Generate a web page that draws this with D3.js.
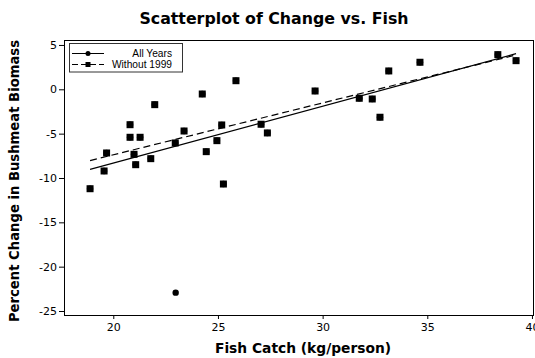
<!DOCTYPE html>
<html>
<head>
<meta charset="utf-8">
<script src="https://cdn.jsdelivr.net/npm/d3@7"></script>
<style>
  html, body { margin: 0; padding: 0; background: #fff; }
  svg { display: block; }
</style>
</head>
<body>
<svg id="chart" width="535" height="358"></svg>
<script>
// Fish catch (kg/person) per year and the percent change in bushmeat biomass
const fishCatch = [18.89, 19.56, 19.68, 20.80, 20.80, 21.28, 20.99, 21.07, 21.79, 21.98,
                   22.96, 23.38, 24.25, 24.44, 24.95, 25.18, 25.26, 25.86, 27.06, 27.36,
                   29.64, 31.75, 32.37, 32.74, 33.16, 34.65, 38.37, 39.24, 22.98];
const bushmeatChange = [-11.21, -9.21, -7.18, -3.99, -5.41, -5.41, -7.33, -8.50, -7.82, -1.73,
                        -6.05, -4.70, -0.53, -7.03, -5.79, -4.02, -10.68, 0.97, -3.94, -4.92,
                        -0.19, -1.01, -1.09, -3.15, 2.07, 3.05, 3.91, 3.23, -22.93];
// the last entry is 1999
const isYear1999 = fishCatch.map((d, i) => i === fishCatch.length - 1);

const xTicks = [20, 25, 30, 35, 40];
const yTicks = [5, 0, -5, -10, -15, -20, -25];
const seriesNames = ["All Years", "Without 1999"];

const svg = d3.select("#chart");
const plotLeft = 64, plotRight = 533, plotTop = 40, plotBottom = 315;

const x = d3.scaleLinear().domain([17.645, 40.05]).range([plotLeft, plotRight]);
const y = d3.scaleLinear().domain([-25.45, 5.56]).range([plotBottom, plotTop]);

const all = fishCatch.map((fx, i) => ({ x: fx, y: bushmeatChange[i], y1999: isYear1999[i] }));
const no1999 = all.filter(d => !d.y1999);

// ordinary least-squares fit
function fit(pts) {
  const mx = d3.mean(pts, d => d.x), my = d3.mean(pts, d => d.y);
  const b = d3.sum(pts, d => (d.x - mx) * (d.y - my)) / d3.sum(pts, d => (d.x - mx) ** 2);
  const a = my - b * mx;
  const [x0, x1] = d3.extent(pts, d => d.x);
  return [{ x: x0, y: a + b * x0 }, { x: x1, y: a + b * x1 }];
}

// title
svg.append("text")
  .attr("x", 274).attr("y", 24)
  .attr("text-anchor", "middle")
  .attr("font-family", "DejaVu Sans, Verdana, sans-serif")
  .attr("font-weight", "bold")
  .attr("font-size", 15.8)
  .text("Scatterplot of Change vs. Fish");

// axes
const xAxis = svg.append("g")
  .attr("transform", `translate(0,${plotBottom})`)
  .call(d3.axisBottom(x).tickValues(xTicks).tickSize(4).tickPadding(4));
const yAxis = svg.append("g")
  .attr("transform", `translate(${plotLeft},0)`)
  .call(d3.axisLeft(y).tickValues(yTicks).tickSize(5).tickPadding(2).tickFormat(d3.format("d")));
[xAxis, yAxis].forEach(g => {
  g.select(".domain").remove();
  g.selectAll("text")
    .attr("font-family", "DejaVu Sans, Tahoma, sans-serif")
    .attr("font-size", 11)
    .attr("fill", "#000");
  g.selectAll("line").attr("stroke", "#000");
});
yAxis.selectAll("text").text(d => d < 0 ? "-" + Math.abs(d) : d);

// frame
svg.append("rect")
  .attr("x", plotLeft + 0.5).attr("y", plotTop + 0.5)
  .attr("width", plotRight - plotLeft).attr("height", plotBottom - plotTop)
  .attr("fill", "none").attr("stroke", "#000").attr("stroke-width", 1);

// axis titles
svg.append("text")
  .attr("x", 303).attr("y", 353)
  .attr("text-anchor", "middle")
  .attr("font-family", "DejaVu Sans, Verdana, sans-serif")
  .attr("font-weight", "bold")
  .attr("font-size", 13.8)
  .text("Fish Catch (kg/person)");
svg.append("text")
  .attr("transform", "translate(19,181) rotate(-90)")
  .attr("text-anchor", "middle")
  .attr("font-family", "DejaVu Sans, Verdana, sans-serif")
  .attr("font-weight", "bold")
  .attr("font-size", 13.2)
  .text("Percent Change in Bushmeat Biomass");

const line = d3.line().x(d => x(d.x)).y(d => y(d.y));

// fitted lines
svg.append("path").datum(fit(all))
  .attr("d", line).attr("fill", "none").attr("stroke", "#000").attr("stroke-width", 1.2);
svg.append("path").datum(fit(no1999))
  .attr("d", line).attr("fill", "none").attr("stroke", "#000").attr("stroke-width", 1.2)
  .attr("stroke-dasharray", "7,4");

// points: circles for all years, squares on top for the series without 1999
svg.append("g").selectAll("circle").data(all).join("circle")
  .attr("cx", d => x(d.x)).attr("cy", d => y(d.y)).attr("r", 3.2).attr("fill", "#000");
svg.append("g").selectAll("rect").data(no1999).join("rect")
  .attr("x", d => x(d.x) - 3.5).attr("y", d => y(d.y) - 3.5)
  .attr("width", 7).attr("height", 7).attr("fill", "#000");

// legend
const lg = svg.append("g");
lg.append("rect")
  .attr("x", 69.5).attr("y", 43.5).attr("width", 113).attr("height", 28.5)
  .attr("fill", "#fff").attr("stroke", "#333").attr("stroke-width", 1);
seriesNames.forEach((name, i) => {
  const ly = 53.5 + i * 11;
  lg.append("line")
    .attr("x1", 72).attr("x2", 104).attr("y1", ly).attr("y2", ly)
    .attr("stroke", "#000").attr("stroke-width", 1)
    .attr("stroke-dasharray", i === 1 ? "6,3" : null);
  if (i === 0) {
    lg.append("circle").attr("cx", 88).attr("cy", ly).attr("r", 2.5).attr("fill", "#000");
  } else {
    lg.append("rect").attr("x", 85.5).attr("y", ly - 2.5).attr("width", 5).attr("height", 5).attr("fill", "#000");
  }
  lg.append("text")
    .attr("x", 172).attr("y", ly + 3.5)
    .attr("text-anchor", "end")
    .attr("font-family", "Liberation Sans, Arial, sans-serif")
    .attr("font-size", 10.2)
    .text(name);
});
</script>
</body>
</html>
